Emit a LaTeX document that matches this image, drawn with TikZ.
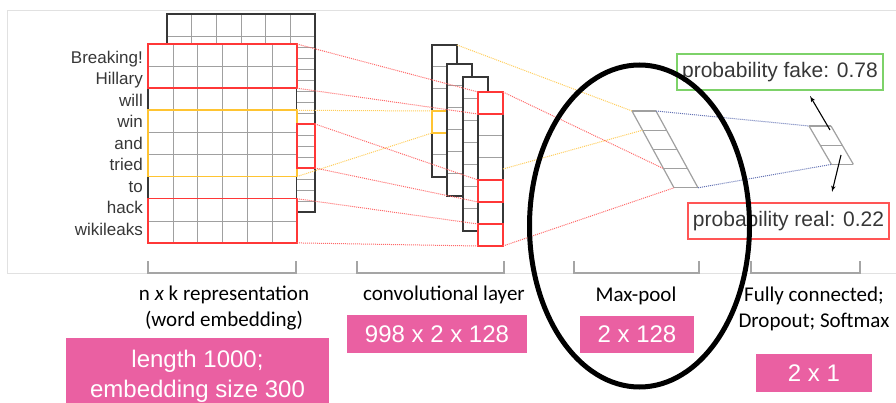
\documentclass[tikz,border=0pt]{standalone}
\usepackage{fontspec}
\setmainfont{Liberation Sans}
\newfontfamily\calibri{Carlito}
\usepackage{tikz}
\usetikzlibrary{positioning, shapes.geometric, arrows}

\definecolor{hlred}{RGB}{255,55,55}
\definecolor{hlyellow}{RGB}{255,196,50}
\definecolor{linkred}{RGB}{255,105,105}
\definecolor{linkyellow}{RGB}{255,205,90}
\definecolor{linkblue}{RGB}{100,115,180}
\definecolor{boxgreen}{RGB}{125,210,105}
\definecolor{boxpink}{RGB}{234,96,162}
\definecolor{gridgray}{RGB}{160,160,160}
\definecolor{framegray}{RGB}{225,225,225}
\definecolor{tickgray}{RGB}{165,165,165}
\definecolor{darkline}{RGB}{55,55,55}

\begin{document}
\begin{tikzpicture}[x=1pt, y=-1pt]
		% Styles
		\tikzstyle{word} = [anchor=base east, inner sep=0pt, text=darkline,
		font=\fontsize{17}{17}\selectfont]
		\tikzstyle{cell} = [rectangle, draw=gridgray, fill=white, line width=1pt,
		inner sep=0pt, outer sep=0pt, minimum width=25pt, minimum height=22pt, anchor=north west]
		\tikzstyle{outline} = [draw=darkline, line width=1.2pt]
		\tikzstyle{redbox} = [rectangle, draw=hlred, line width=1.6pt,
		inner sep=0pt, outer sep=0pt, anchor=north west]
		\tikzstyle{yellowbox} = [rectangle, draw=hlyellow, line width=1.6pt,
		inner sep=0pt, outer sep=0pt, anchor=north west]
		\tikzstyle{redlink} = [draw=linkred, densely dotted, line width=1pt]
		\tikzstyle{yellowlink} = [draw=linkyellow, densely dotted, line width=1pt]
		\tikzstyle{bluelink} = [draw=linkblue, densely dotted, line width=1pt]
		\tikzstyle{pool} = [draw=gridgray, line width=1.2pt]
		\tikzstyle{line} = [draw, -latex', line width=1.1pt]
		\tikzstyle{prob} = [rectangle, draw, line width=1.3pt, text=darkline,
		minimum height=36pt, inner sep=0pt, font=\fontsize{21}{21}\selectfont]
		\tikzstyle{caption} = [align=center, anchor=base, inner sep=0pt,
		font=\calibri\fontsize{21}{26}\selectfont]
		\tikzstyle{sizebox} = [rectangle, fill=boxpink, text=white, align=center,
		inner sep=0pt, font=\fontsize{24}{30}\selectfont]
		
		\useasboundingbox (0,0) rectangle (896,403);
		
		% Frame and brackets
		\draw[framegray, line width=1pt] (896,11) -- (7,11) -- (7,273) -- (896,273);
		\foreach \a/\b in {148/296, 357/504, 574/699, 751/860}
			\draw[tickgray, line width=1.5pt] (\a,261) -- (\a,273) -- (\b,273) -- (\b,261);
		
		% Embedding matrix
		\fill[white] (167,14) rectangle (315,212);
		\foreach \j in {1,...,5} \draw[gridgray] (167+24.67*\j,14) -- (167+24.67*\j,212);
		\foreach \j in {0,...,15} \draw[gridgray] (167,36+11*\j) -- (315,36+11*\j);
		\draw[outline] (167,14) rectangle (315,212);
		\node[rectangle, fill=white, inner sep=0pt, outer sep=0pt, minimum width=148.8pt,
		minimum height=198.9pt, anchor=north west] (emb) at (148,44) {};
		\foreach \j in {1,...,5} \draw[gridgray] (148+24.8*\j,44) -- ++(0,198.9);
		\foreach \j in {1,...,8} \draw[gridgray] (148,44+22.1*\j) -- ++(148.8,0);
		\draw[outline] (emb.north west) rectangle (emb.south east);
		\node[redbox, minimum width=148.8pt, minimum height=44.2pt] (bi1) at (emb.north west) {};
		\node[yellowbox, minimum width=148.8pt, minimum height=66.3pt] (tri) at (148,110.3) {};
		\node[redbox, minimum width=148.8pt, minimum height=44.2pt] (bi2) at (148,198.7) {};
		\node[redbox, minimum width=18.2pt, minimum height=44pt] (stripbox) at (296.8,124) {};
		
		% Words
		\foreach \w [count=\i] in {Breaking!, Hillary, will, win, and, tried, to, hack, wikileaks}
			\node[word] (w\i) at (143, 41.8+21.5*\i) {\w};
		
		% Convolutional layer
		\foreach \col/\cx/\cy/\n in {1/432/45/6, 2/447/64/6, 3/463/77/7, 4/478/92/7} {
			\foreach \row in {1,...,\n}
				\node[cell] (c\col-\row) at (\cx, \cy+22*\row-22) {};
			\draw[outline] (c\col-1.north west) rectangle (c\col-\n.south east);
			\ifnum\col=1 \node[yellowbox, minimum width=25pt, minimum height=22pt] (win) at (c1-4.north west) {}; \fi
		}
		\foreach \row in {1,5,7}
			\node[redbox, minimum width=25pt, minimum height=22pt] (out\row) at (c4-\row.north west) {};
		
		% Max-pool and fully connected
		\foreach \k in {0,...,4} {
			\coordinate (mpL\k) at (632+10.5*\k, 111+19.2*\k);
			\coordinate (mpR\k) at (656+10.5*\k, 111+19.2*\k);
		}
		\draw[pool] (mpL0) -- (mpL4) (mpR0) -- (mpR4);
		\foreach \k in {0,...,4} \draw[pool] (mpL\k) -- (mpR\k);
		\foreach \k in {0,1,2} {
			\coordinate (fcL\k) at (809+11.2*\k, 126+19.2*\k);
			\coordinate (fcR\k) at (831+11.2*\k, 126+19.2*\k);
		}
		\draw[pool] (fcL0) -- (fcL2) (fcR0) -- (fcR2);
		\foreach \k in {0,1,2} \draw[pool] (fcL\k) -- (fcR\k);
		
		% Connections
		\path[redlink] (bi1.north east) -- (out1.north west);
		\path[redlink] (bi1.south east) -- (out1.south west);
		\path[yellowlink] (tri.north east) -- (win.north west);
		\path[yellowlink] (tri.south east) -- (win.south west);
		\path[redlink] (stripbox.north east) -- (out5.north west);
		\path[redlink] (stripbox.south east) -- (out5.south west);
		\path[redlink] (bi2.north east) -- (out7.north west);
		\path[redlink] (bi2.south east) -- (out7.south west);
		\path[yellowlink] (c1-1.north east) -- (mpL0);
		\path[yellowlink] (c4-4.east) -- (mpL1);
		\path[redlink] (out1.north east) -- (mpL3);
		\path[redlink] (out7.south east) -- (mpL4);
		\path[bluelink] (mpR0) -- (fcL0);
		\path[bluelink] (mpR4) -- (fcL2);
		
		% Outputs
		\node[prob, draw=boxgreen, minimum width=206pt] (fake) at (780,72) {probability fake: 0.78};
		\node[prob, draw=hlred!85, minimum width=201pt] (real) at (788.5,221) {probability real: 0.22};
		\coordinate (fcTop) at (830,130);
		\coordinate (fcBottom) at (841,155);
		\coordinate (fakeTip) at (810,96);
		\coordinate (realTip) at (832,192);
		\path[line] (fcTop) -- (fakeTip);
		\path[line] (fcBottom) -- (realTip);
		
		% Captions
		\node[caption] (embcap) at (224,326) {n \textit{x} k representation\\(word embedding)};
		\node[caption] (convcap) at (444,300) {convolutional layer};
		\node[caption] (poolcap) at (636,301) {Max-pool};
		\node[caption] (fccap) at (814,327) {Fully connected;\\Dropout; Softmax};
		\node[sizebox, minimum width=263pt, minimum height=76.5pt] (embsize) at (197.5,376.25) {length 1000;\\embedding size 300};
		\node[sizebox, minimum width=180pt, minimum height=38pt] (convsize) at (437,334) {998 x 2 x 128};
		\node[sizebox, minimum width=114pt, minimum height=37pt] (poolsize) at (637,334.5) {2 x 128};
		\node[sizebox, minimum width=116pt, minimum height=38pt] (fcsize) at (814,373) {2 x 1};
		
		% Max-pool ring
		\draw[line width=5pt] (639.5,226) ellipse [x radius=110, y radius=161];
	\end{tikzpicture}
\end{document}
